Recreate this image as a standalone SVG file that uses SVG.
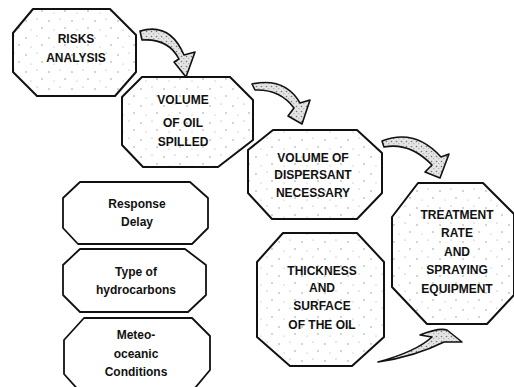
<svg xmlns="http://www.w3.org/2000/svg" width="514" height="387" viewBox="0 0 514 387">
<defs>
<pattern id="speck" width="23" height="17" patternUnits="userSpaceOnUse">
<rect width="23" height="17" fill="#fff"/>
<circle cx="3" cy="4" r="0.7" fill="#888"/>
<circle cx="14" cy="2" r="0.6" fill="#999"/>
<circle cx="19" cy="11" r="0.7" fill="#888"/>
<circle cx="8" cy="13" r="0.6" fill="#aaa"/>
</pattern>
<pattern id="arrowtex" width="5" height="5" patternUnits="userSpaceOnUse">
<rect width="5" height="5" fill="#e4e4e4"/>
<circle cx="1.5" cy="1.5" r="0.8" fill="#777"/>
<circle cx="3.8" cy="3.6" r="0.6" fill="#999"/>
</pattern>
</defs>
<style>
.oct{fill:url(#speck);stroke:#111;stroke-width:2;stroke-linejoin:round}
.box{fill:#fff;stroke:#111;stroke-width:1.8;stroke-linejoin:round}
.arr{fill:url(#arrowtex);stroke:#111;stroke-width:1.6;stroke-linejoin:round}
text{font-family:"Liberation Sans",Arial,sans-serif;font-weight:bold;font-size:12px;text-anchor:middle;fill:#111}
</style>
<g id="risks">
<polygon class="oct" points="33,9 110,9 136,35 136,72 115,96 37,96 13,72 13,33"/>
<text x="76" y="43">RISKS</text>
<text x="76" y="62">ANALYSIS</text>
</g>
<g id="volume-oil">
<polygon class="oct" points="142,77 230,77 253,100 253,140 218,167 143,167 122,145 122,97"/>
<text x="183" y="104">VOLUME</text>
<text x="183" y="127">OF OIL</text>
<text x="183" y="146">SPILLED</text>
</g>
<g id="volume-dispersant">
<polygon class="oct" points="273,130 357,130 382,153 382,193 357,219 272,219 248,193 248,150"/>
<text x="313" y="162">VOLUME OF</text>
<text x="313" y="179">DISPERSANT</text>
<text x="313" y="197">NECESSARY</text>
</g>
<g id="treatment">
<polygon class="oct" points="418,183 483,183 514,214 514,295 487,324 427,324 392,287 392,217"/>
<text x="457" y="219">TREATMENT</text>
<text x="457" y="237">RATE</text>
<text x="457" y="256">AND</text>
<text x="457" y="274">SPRAYING</text>
<text x="457" y="293">EQUIPMENT</text>
</g>
<g id="thickness">
<polygon class="oct" points="283,233 357,233 384,262 384,337 352,366 290,366 257,337 257,262"/>
<text x="322" y="275">THICKNESS</text>
<text x="322" y="292">AND</text>
<text x="322" y="310">SURFACE</text>
<text x="322" y="329">OF THE OIL</text>
</g>
<g id="response-delay">
<polygon class="box" points="80,182 190,182 208,198 208,228 192,244 78,244 63,228 63,198"/>
<text x="137" y="208">Response</text>
<text x="137" y="226">Delay</text>
</g>
<g id="type-hydrocarbons">
<polygon class="box" points="80,249 185,249 206,265 206,295 188,312 80,312 63,295 63,265"/>
<text x="136" y="276">Type of</text>
<text x="136" y="294">hydrocarbons</text>
</g>
<g id="meteo-oceanic">
<polygon class="box" points="84,318 192,318 210,336 210,370 190,394 82,394 64,374 64,340"/>
<text x="136" y="339">Meteo-</text>
<text x="136" y="358">oceanic</text>
<text x="136" y="376">Conditions</text>
</g>
<g id="connectors">
<path class="arr" d="M140,31 Q170,22 184,55 L195,52 L186,77 L174,62 L179,59 Q168,38 142,40 Z"/>
<path class="arr" d="M252,84 Q285,77 300,103 L310,100 L302,124 L288,116 L294,108 Q280,89 255,90 Z"/>
<path class="arr" d="M382,141 Q415,128 441,157 L449,154 L440,178 L425,172 L432,165 Q410,142 384,147 Z"/>
<path class="arr" d="M378,362 C405,358 428,350 444,342 L462,342 L447,330 C440,328 430,331 420,335 L432,337 C420,348 400,356 378,362 Z"/>
</g>
</svg>
